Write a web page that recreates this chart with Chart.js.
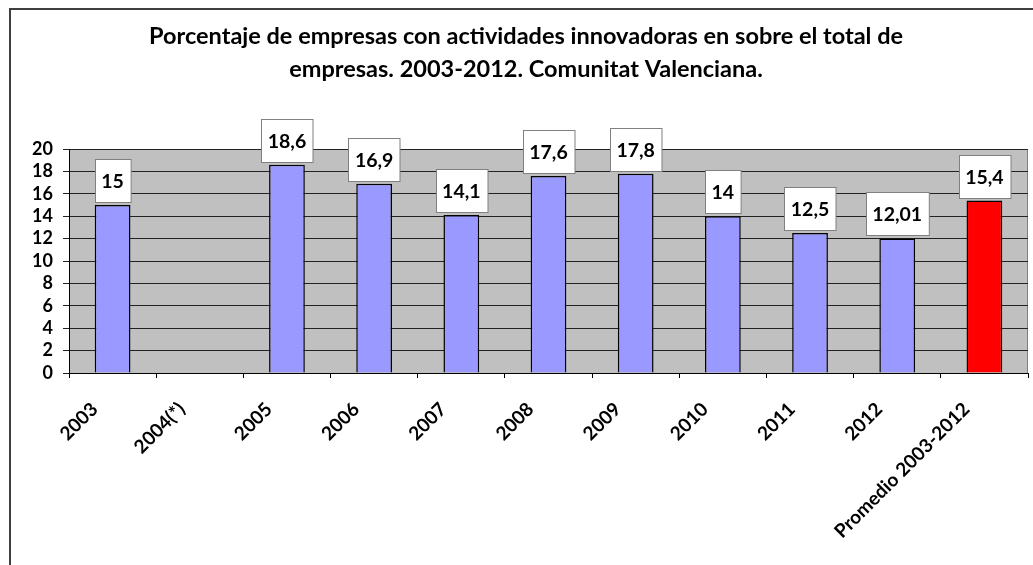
<!DOCTYPE html>
<html>
<head>
<meta charset="utf-8">
<script src="https://cdn.jsdelivr.net/npm/chart.js@4/dist/chart.umd.min.js"></script>
<style>
  html, body { margin: 0; padding: 0; background: #fff; }
  #wrap { width: 1033px; height: 565px; }
</style>
</head>
<body>
<div id="wrap"><canvas id="grafico"></canvas></div>
<script>
const titulo = [
    'Porcentaje de empresas con actividades innovadoras en sobre el total de',
    'empresas. 2003-2012. Comunitat Valenciana.'
];
const categorias = ['2003', '2004(*)', '2005', '2006', '2007', '2008', '2009', '2010', '2011', '2012', 'Promedio 2003-2012'];
const valores = [15, null, 18.6, 16.9, 14.1, 17.6, 17.8, 14, 12.5, 12.01, 15.4];
const colores = ['#9999FF', '#9999FF', '#9999FF', '#9999FF', '#9999FF', '#9999FF', '#9999FF', '#9999FF', '#9999FF', '#9999FF', '#FF0000'];
const ticksY = [0, 2, 4, 6, 8, 10, 12, 14, 16, 18, 20];

const FUENTE = 'Lato, "Open Sans", sans-serif';

// marco, fondo gris del área de trazado y título
const fondoPlugin = {
    id: 'fondo',
    beforeDraw(chart) {
        const { ctx, chartArea: a } = chart;
        ctx.save();
        ctx.fillStyle = '#C0C0C0';
        ctx.fillRect(a.left, a.top, a.right - a.left, a.bottom - a.top);
        ctx.strokeStyle = '#808080';
        ctx.lineWidth = 1;
        ctx.beginPath();
        ctx.moveTo(a.left, a.top + 0.5);
        ctx.lineTo(a.right - 0.5, a.top + 0.5);
        ctx.lineTo(a.right - 0.5, a.bottom);
        ctx.stroke();

        ctx.strokeStyle = '#404040';
        ctx.lineWidth = 2;
        ctx.beginPath();
        ctx.moveTo(10, chart.height);
        ctx.lineTo(10, 9);
        ctx.lineTo(chart.width, 9);
        ctx.stroke();

        ctx.fillStyle = '#000';
        ctx.font = 'bold 23.5px ' + FUENTE;
        ctx.textAlign = 'center';
        ctx.textBaseline = 'middle';
        ctx.fillText(titulo[0], 526, 36);
        ctx.fillText(titulo[1], 526, 69);
        ctx.restore();
    }
};

// etiquetas de datos con caja blanca
const etiquetasPlugin = {
    id: 'etiquetas',
    afterDatasetsDraw(chart) {
        const { ctx } = chart;
        const meta = chart.getDatasetMeta(0);
        ctx.save();
        ctx.font = 'bold 19.5px ' + FUENTE;
        ctx.textAlign = 'center';
        ctx.textBaseline = 'middle';
        meta.data.forEach((bar, i) => {
            const v = valores[i];
            if (v === null) return;
            const txt = String(v).replace('.', ',');
            const w = ctx.measureText(txt).width + 13;
            const h = 43;
            const x = Math.round(bar.x - w / 2) + 0.5;
            const y = Math.round(bar.y - 3 - h) + 0.5;
            ctx.fillStyle = '#fff';
            ctx.fillRect(x, y, w, h);
            ctx.strokeStyle = '#808080';
            ctx.lineWidth = 1;
            ctx.strokeRect(x, y, w, h);
            ctx.fillStyle = '#000';
            ctx.fillText(txt, bar.x, y + h / 2 + 1);
        });
        ctx.restore();
    }
};

new Chart(document.getElementById('grafico'), {
    type: 'bar',
    data: {
        labels: categorias,
        datasets: [{
            data: valores,
            backgroundColor: colores,
            borderColor: '#000',
            borderWidth: 1.5,
            categoryPercentage: 1,
            barPercentage: 0.41
        }]
    },
    options: {
        responsive: true,
        maintainAspectRatio: false,
        animation: false,
        layout: { padding: { left: 0, top: 149, right: 5, bottom: 0 } },
        plugins: {
            legend: { display: false },
            tooltip: { enabled: false }
        },
        scales: {
            y: {
                min: 0,
                max: 20,
                afterBuildTicks: (s) => { s.ticks = ticksY.map(v => ({ value: v })); },
                afterFit: (s) => { s.width = 69; },
                ticks: { color: '#000', font: { family: FUENTE, weight: 'bold', size: 18 }, padding: 10, autoSkip: false },
                grid: { color: '#222', lineWidth: 1, tickLength: 6 },
                border: { color: '#000', width: 1 }
            },
            x: {
                afterFit: (s) => { s.height = 192; },
                ticks: {
                    color: '#000',
                    font: { family: FUENTE, weight: 'bold', size: 19 },
                    maxRotation: 45,
                    minRotation: 45,
                    padding: 20,
                    labelOffset: -18,
                    autoSkip: false
                },
                grid: { drawOnChartArea: false, color: '#000', tickLength: 5 },
                border: { color: '#000', width: 1 }
            }
        }
    },
    plugins: [fondoPlugin, etiquetasPlugin]
});
</script>
</body>
</html>
